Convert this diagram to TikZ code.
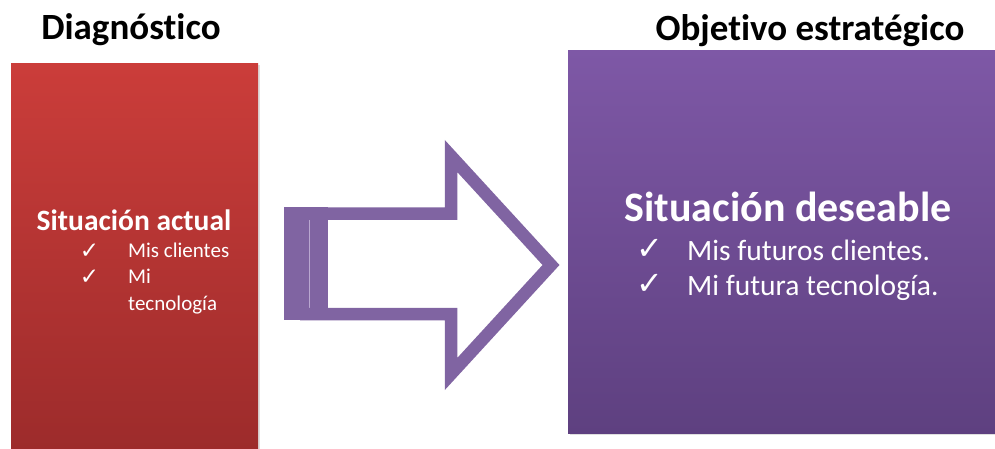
\documentclass[tikz,border=0pt]{standalone}
\usepackage{fontspec}
\setmainfont{Carlito}[Ligatures=NoCommon]
\newfontfamily\symfont{DejaVu Sans}
\usetikzlibrary{shadows}
\definecolor{diagtop}{RGB}{203,61,58}
\definecolor{diagbot}{RGB}{156,43,43}
\definecolor{objtop}{RGB}{126,88,166}
\definecolor{objbot}{RGB}{94,64,128}
\definecolor{arrowpurple}{RGB}{128,100,162}
\definecolor{arrowlight}{RGB}{185,167,208}

\begin{document}
\begin{tikzpicture}[x=1pt,y=-1pt]
  \tikzstyle{title}=[inner sep=0pt,font=\fontsize{37}{40}\selectfont\bfseries,text=black]
  \tikzstyle{box}=[inner sep=0pt,draw=none,drop shadow={opacity=0.25,shadow xshift=2pt,shadow yshift=-2pt}]
  \tikzstyle{head}=[inner sep=0pt,anchor=base,text=white]
  \tikzstyle{tick}=[inner sep=0pt,anchor=base,text=white]
  \tikzstyle{item}=[inner sep=0pt,anchor=base west,text=white]

  \useasboundingbox (0,0) rectangle (995,448);

  % -- Titles --
  \node[title,anchor=base] (tdiag) at (131,39) {Diagnóstico};
  \node[title,anchor=base] (tobj) at (810,40) {Objetivo estratégico};

  % -- Diagnostico box --
  \node[box,minimum width=247pt,minimum height=392pt,top color=diagtop,bottom color=diagbot] (diag) at (134.5,259) {};
  \node[head,font=\fontsize{29.5}{32}\selectfont\bfseries] (actual) at (134,230) {Situación actual};
  \node[tick,font=\symfont\fontsize{23}{26}\selectfont] (ck1) at (89.5,258) {✓};
  \node[tick,font=\symfont\fontsize{23}{26}\selectfont] (ck2) at (89.5,284) {✓};
  \node[item,font=\fontsize{21}{24}\selectfont] (clientes) at (128,257) {Mis clientes};
  \node[item,font=\fontsize{21}{24}\selectfont] (mi) at (128,283) {Mi};
  \node[item,font=\fontsize{21}{24}\selectfont] (tecno) at (128,310) {tecnología};

  % -- Block arrow --
  \fill[arrowpurple] (284,207) rectangle (328,320);
  \draw[arrowlight,line width=0.8pt] (309,220) -- (309,308);
  \draw[arrowpurple,line width=12.5pt,miter limit=10] (300,213.5) -- (451,213.5) -- (451,156) -- (551,265)
    -- (451,374) -- (451,314) -- (300,314);

  % -- Objetivo box --
  \node[box,minimum width=430pt,minimum height=383pt,top color=objtop,bottom color=objbot] (obj) at (783,241.5) {};
  \node[head,font=\fontsize{42}{46}\selectfont\bfseries] (deseable) at (788,221) {Situación deseable};
  \node[tick,font=\symfont\fontsize{32}{36}\selectfont] (ck3) at (650,259) {✓};
  \node[tick,font=\symfont\fontsize{32}{36}\selectfont] (ck4) at (650,294) {✓};
  \node[item,font=\fontsize{29.5}{32}\selectfont] (fclientes) at (687,260) {Mis futuros clientes.};
  \node[item,font=\fontsize{29.5}{32}\selectfont] (ftecno) at (687,295) {Mi futura tecnología.};
\end{tikzpicture}
\end{document}
